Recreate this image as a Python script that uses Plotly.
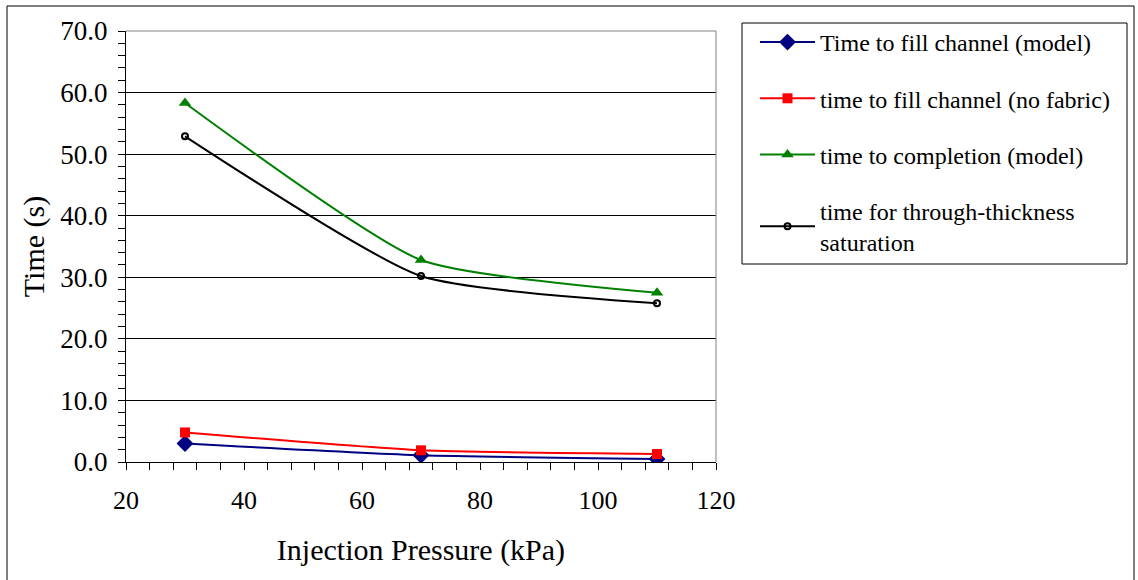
import plotly.graph_objects as go

pressure = [30, 70, 110]
fill_model = [3.0, 1.1, 0.5]
fill_nofabric = [4.8, 1.9, 1.3]
completion = [58.3, 32.8, 27.5]
through_thick = [52.9, 30.2, 25.8]

names = ["Time to fill channel (model)", "time to fill channel (no fabric)",
         "time to completion (model)", "time for through-thickness<br>saturation"]

FONT = "Liberation Serif, Times New Roman, serif"
SM = 0.55

fig = go.Figure()
fig.add_trace(go.Scatter(x=pressure, y=fill_model, name=names[0], legendgroup="a",
                         mode="lines+markers", line=dict(color="#000080", width=2, shape="spline", smoothing=SM),
                         marker=dict(symbol="diamond", size=13, color="#000080")))
fig.add_trace(go.Scatter(x=pressure, y=fill_nofabric, name=names[1], legendgroup="b",
                         mode="lines+markers", line=dict(color="#FF0000", width=2, shape="spline", smoothing=SM),
                         marker=dict(symbol="square", size=10, color="#FF0000")))
fig.add_trace(go.Scatter(x=pressure, y=completion, name=names[2], legendgroup="c",
                         mode="lines+markers", line=dict(color="#008000", width=2, shape="spline", smoothing=SM),
                         marker=dict(symbol="triangle-up", size=11, color="#008000")))
fig.add_trace(go.Scatter(x=pressure, y=through_thick, name=names[3], legendgroup="d",
                         mode="lines+markers", line=dict(color="#000000", width=2, shape="spline", smoothing=SM),
                         marker=dict(symbol="circle-open", size=6, color="#000000", line=dict(width=2))))

W, H = 1138, 580
L, R, T, B = 126, 716, 31, 462
pw, ph = R - L, B - T

def px(x):
    return (x - L) / pw

def py(y):
    return (B - y) / ph

fig.update_layout(
    width=W, height=H,
    margin=dict(l=L, r=W - R, t=T, b=H - B),
    paper_bgcolor="white", plot_bgcolor="white",
    font=dict(family=FONT, color="black"),
    showlegend=True,
    legend=dict(x=px(755), y=py(20), xanchor="left", yanchor="top",
                font=dict(size=24, family=FONT), bgcolor="rgba(0,0,0,0)",
                borderwidth=0, traceorder="grouped", tracegroupgap=22,
                itemwidth=55),
    xaxis=dict(range=[20, 120], dtick=20, tick0=20, showgrid=False, zeroline=False,
               showline=True, linecolor="black", linewidth=1,
               ticks="outside", ticklen=7, tickcolor="black",
               minor=dict(dtick=4, ticks="outside", ticklen=7, tickcolor="black"),
               tickfont=dict(size=26, family=FONT), ticklabelstandoff=8,
               title=dict(text="Injection Pressure (kPa)", font=dict(size=30, family=FONT), standoff=24)),
    yaxis=dict(range=[0, 70], dtick=10, tickformat=".1f", showgrid=True, gridcolor="black",
               gridwidth=1, zeroline=False,
               showline=True, linecolor="black", linewidth=1,
               ticks="outside", ticklen=7, tickcolor="black",
               minor=dict(dtick=2, ticks="outside", ticklen=7, tickcolor="black", showgrid=False),
               tickfont=dict(size=27, family=FONT), ticklabelstandoff=5,
               title=dict(text="Time (s)", font=dict(size=30, family=FONT), standoff=6)),
)

shapes = [
    dict(type="line", xref="paper", yref="paper", x0=0, x1=1, y0=1, y1=1,
         line=dict(color="#808080", width=1)),
    dict(type="line", xref="paper", yref="paper", x0=1, x1=1, y0=0, y1=1,
         line=dict(color="#808080", width=1)),
    dict(type="rect", xref="paper", yref="paper", x0=px(742), x1=px(1127), y0=py(264), y1=py(23),
         line=dict(color="black", width=1), fillcolor="rgba(0,0,0,0)"),
    dict(type="rect", xref="paper", yref="paper", x0=px(7), x1=px(1134), y0=py(590), y1=py(6),
         line=dict(color="black", width=1), fillcolor="rgba(0,0,0,0)"),
]
fig.update_layout(shapes=shapes)

fig.write_html("out.html", config={"displayModeBar": False},
               post_script="document.body.style.margin='0';")
